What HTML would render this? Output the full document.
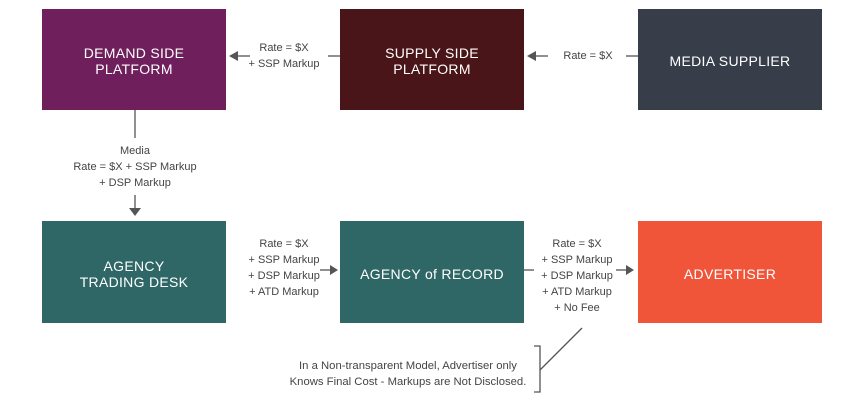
<!DOCTYPE html>
<html><head><style>
body{margin:0;width:851px;height:402px;background:#fff;position:relative;overflow:hidden;font-family:"Liberation Sans",sans-serif}
.b{position:absolute;width:184px;height:101px;color:#fff;display:flex;align-items:center;justify-content:center;text-align:center;font-size:14px;line-height:16px;letter-spacing:0.3px;padding-top:3px;box-sizing:border-box}
.t{position:absolute;font-size:11px;line-height:16px;color:#444;text-align:center;white-space:nowrap}
</style></head><body>
<div class="b" style="left:42px;top:9px;background:#6f1f5b">DEMAND SIDE<br>PLATFORM</div>
<div class="b" style="left:340px;top:9px;background:#4a1518">SUPPLY SIDE<br>PLATFORM</div>
<div class="b" style="left:638px;top:9px;background:#373e4a">MEDIA SUPPLIER</div>
<div class="b" style="left:42px;top:221px;height:102px;background:#2f6767">AGENCY<br>TRADING DESK</div>
<div class="b" style="left:340px;top:221px;height:102px;background:#2f6767">AGENCY of RECORD</div>
<div class="b" style="left:638px;top:221px;height:102px;background:#f0553a">ADVERTISER</div>
<svg width="851" height="402" style="position:absolute;left:0;top:0">
<g stroke="#555" stroke-width="1.3" fill="none">
<line x1="238" y1="56" x2="250" y2="56"/><line x1="328" y1="56" x2="340" y2="56"/>
<line x1="536" y1="56" x2="548" y2="56"/><line x1="626" y1="56" x2="638" y2="56"/>
<line x1="135" y1="110" x2="135" y2="138"/><line x1="135" y1="195" x2="135" y2="208"/>
<line x1="320" y1="270" x2="330" y2="270"/><line x1="524" y1="270" x2="534" y2="270"/>
<line x1="616" y1="270" x2="626" y2="270"/>
<polyline points="534,346 540,346 540,392 534,392"/>
<line x1="540" y1="370" x2="582" y2="328"/>
</g>
<g fill="#555">
<polygon points="229,56 238,51 238,61"/><polygon points="527,56 536,51 536,61"/>
<polygon points="129,208 141,208 135,216"/>
<polygon points="338,270 330,265 330,275"/><polygon points="634,270 626,265 626,275"/>
</g></svg>
<div class="t" style="left:238px;top:40px;width:92px">Rate = $X<br>+ SSP Markup</div>
<div class="t" style="left:548px;top:48px;width:80px">Rate = $X</div>
<div class="t" style="left:55px;top:143px;width:160px">Media<br>Rate = $X + SSP Markup<br>+ DSP Markup</div>
<div class="t" style="left:238px;top:236px;width:92px">Rate = $X<br>+ SSP Markup<br>+ DSP Markup<br>+ ATD Markup</div>
<div class="t" style="left:531px;top:236px;width:92px">Rate = $X<br>+ SSP Markup<br>+ DSP Markup<br>+ ATD Markup<br>+ No Fee</div>
<div class="t" style="left:280px;top:358px;width:256px;font-size:11.3px">In a Non-transparent Model, Advertiser only<br>Knows Final Cost - Markups are Not Disclosed.</div>
</body></html>
